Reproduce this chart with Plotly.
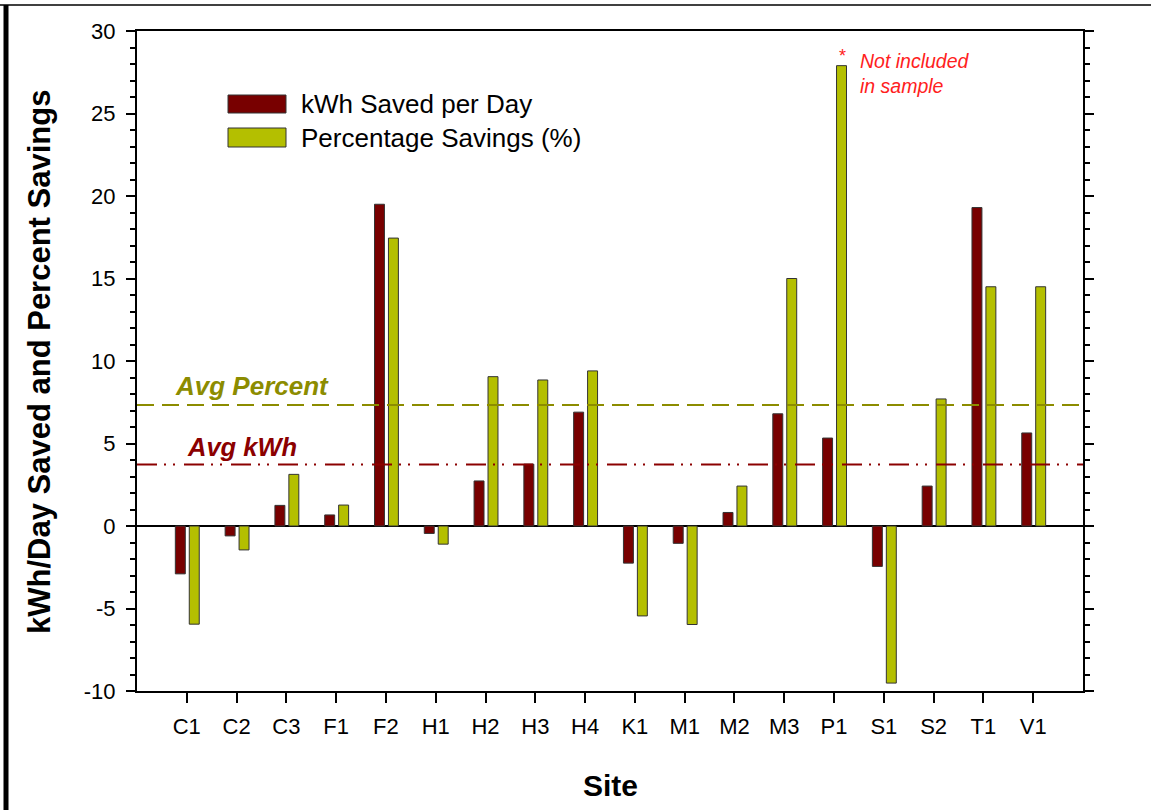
import plotly.graph_objects as go

# ---- data ----
sites = ["C1", "C2", "C3", "F1", "F2", "H1", "H2", "H3", "H4",
         "K1", "M1", "M2", "M3", "P1", "S1", "S2", "T1", "V1"]
kwh_saved = [-2.9, -0.6, 1.25, 0.67, 19.5, -0.45, 2.73, 3.75, 6.9,
             -2.25, -1.05, 0.82, 6.8, 5.33, -2.45, 2.42, 19.3, 5.64]
pct_saved = [-5.95, -1.45, 3.13, 1.27, 17.45, -1.1, 9.05, 8.85, 9.4,
             -5.45, -5.97, 2.42, 15.0, 27.9, -9.52, 7.7, 14.5, 14.5]
avg_kwh = 3.72
avg_pct = 7.33
y_ticks = [-10, -5, 0, 5, 10, 15, 20, 25, 30]
y_tick_labels = [str(v) for v in y_ticks]
excluded_site = "P1"

RED = "#780000"
YEL = "#B4BF00"
OUT = "#333333"
FONT = "Liberation Sans, Arial, sans-serif"

# plot area in pixels (for paper-coordinate helpers)
L, R, T, B = 137, 1083, 31, 691
W, H = 1151, 810


def px(x):
    return (x - L) / (R - L)


def py(y):
    return (B - y) / (B - T)


fig = go.Figure()
fig.add_trace(go.Bar(x=sites, y=kwh_saved, name="kWh Saved per Day",
                     marker=dict(color=RED, line=dict(color=OUT, width=1)),
                     width=0.2, offset=-0.23, showlegend=False))
fig.add_trace(go.Bar(x=sites, y=pct_saved, name="Percentage Savings (%)",
                     marker=dict(color=YEL, line=dict(color=OUT, width=1)),
                     width=0.2, offset=0.05, showlegend=False))

shapes = [
    dict(type="line", xref="paper", yref="y", x0=0, x1=1, y0=avg_pct, y1=avg_pct,
         line=dict(color="#8C8C00", width=2, dash="17px,8px")),
    dict(type="line", xref="paper", yref="y", x0=0, x1=1, y0=avg_kwh, y1=avg_kwh,
         line=dict(color="#8B0000", width=2, dash="20px,7px,2px,7px,2px,9px")),
    # legend swatches
    dict(type="rect", xref="paper", yref="paper", x0=px(228), x1=px(286),
         y0=py(113), y1=py(95), fillcolor=RED, line=dict(color=OUT, width=1)),
    dict(type="rect", xref="paper", yref="paper", x0=px(228), x1=px(286),
         y0=py(147), y1=py(128), fillcolor=YEL, line=dict(color=OUT, width=1)),
    # outer frame: thick left edge and thin top edge
    dict(type="line", xref="paper", yref="paper", x0=px(6), x1=px(6),
         y0=py(5), y1=py(812), line=dict(color="black", width=5)),
    dict(type="line", xref="paper", yref="paper", x0=px(0), x1=px(1151),
         y0=py(5), y1=py(5), line=dict(color="black", width=1.5)),
]

annotations = [
    dict(text="kWh Saved per Day", xref="paper", yref="paper", x=px(299), y=py(104),
         xanchor="left", yanchor="middle", showarrow=False,
         font=dict(family=FONT, size=26, color="black")),
    dict(text="Percentage Savings (%)", xref="paper", yref="paper", x=px(299), y=py(138),
         xanchor="left", yanchor="middle", showarrow=False,
         font=dict(family=FONT, size=26, color="black")),
    dict(text="<b><i>Avg Percent</i></b>", xref="paper", yref="y", x=px(173), y=avg_pct,
         yshift=19, xanchor="left", yanchor="middle", showarrow=False,
         font=dict(family=FONT, size=26, color="#8C8C00")),
    dict(text="<b><i>Avg kWh</i></b>", xref="paper", yref="y", x=px(185), y=avg_kwh,
         yshift=18, xanchor="left", yanchor="middle", showarrow=False,
         font=dict(family=FONT, size=25.5, color="#8B0000")),
    dict(text="*", xref="x", yref="y", x=excluded_site, y=max(pct_saved),
         xshift=8, yshift=10, xanchor="center", yanchor="middle", showarrow=False,
         font=dict(family=FONT, size=18, color="#FF2020")),
    dict(text="<i>Not included<br>in sample</i>", xref="x", yref="y", x=excluded_site,
         y=max(pct_saved), xshift=24, yshift=18, xanchor="left", yanchor="top",
         align="left", showarrow=False,
         font=dict(family=FONT, size=19.5, color="#FF2020")),
    dict(text="<b>kWh/Day Saved and Percent Savings</b>", xref="paper", yref="paper",
         x=px(40), y=py(362), textangle=-90, xanchor="center", yanchor="middle",
         showarrow=False, font=dict(family=FONT, size=31, color="black")),
    dict(text="<b>Site</b>", xref="paper", yref="paper", x=px(610), y=py(785),
         xanchor="center", yanchor="middle", showarrow=False,
         font=dict(family=FONT, size=30, color="black")),
]

fig.update_layout(
    width=W, height=H,
    margin=dict(l=L, r=W - R, t=T, b=H - B),
    paper_bgcolor="white", plot_bgcolor="white",
    barmode="overlay",
    showlegend=False,
    shapes=shapes,
    annotations=annotations,
    font=dict(family=FONT, color="black"),
)
fig.update_xaxes(
    type="category", range=[-1, len(sites)],
    showline=True, linecolor="black", linewidth=2, mirror=True,
    ticks="outside", ticklen=10, tickwidth=2, tickcolor="black",
    tickfont=dict(family=FONT, size=22, color="black"),
    showgrid=False, zeroline=False, ticklabelstandoff=5,
)
fig.update_yaxes(
    range=[-10, 30], tickvals=y_ticks, ticktext=y_tick_labels,
    showline=True, linecolor="black", linewidth=2, mirror="ticks",
    ticks="outside", ticklen=9, tickwidth=2, tickcolor="black",
    minor=dict(dtick=1, ticks="outside", ticklen=5, tickwidth=2, tickcolor="black"),
    tickfont=dict(family=FONT, size=22, color="black"),
    showgrid=False, zeroline=True, zerolinecolor="black", zerolinewidth=2,
    ticklabelstandoff=6,
)

fig.write_html("out.html",
               config={"displayModeBar": False},
               post_script="document.body.style.margin='0';document.body.style.overflow='hidden';")
